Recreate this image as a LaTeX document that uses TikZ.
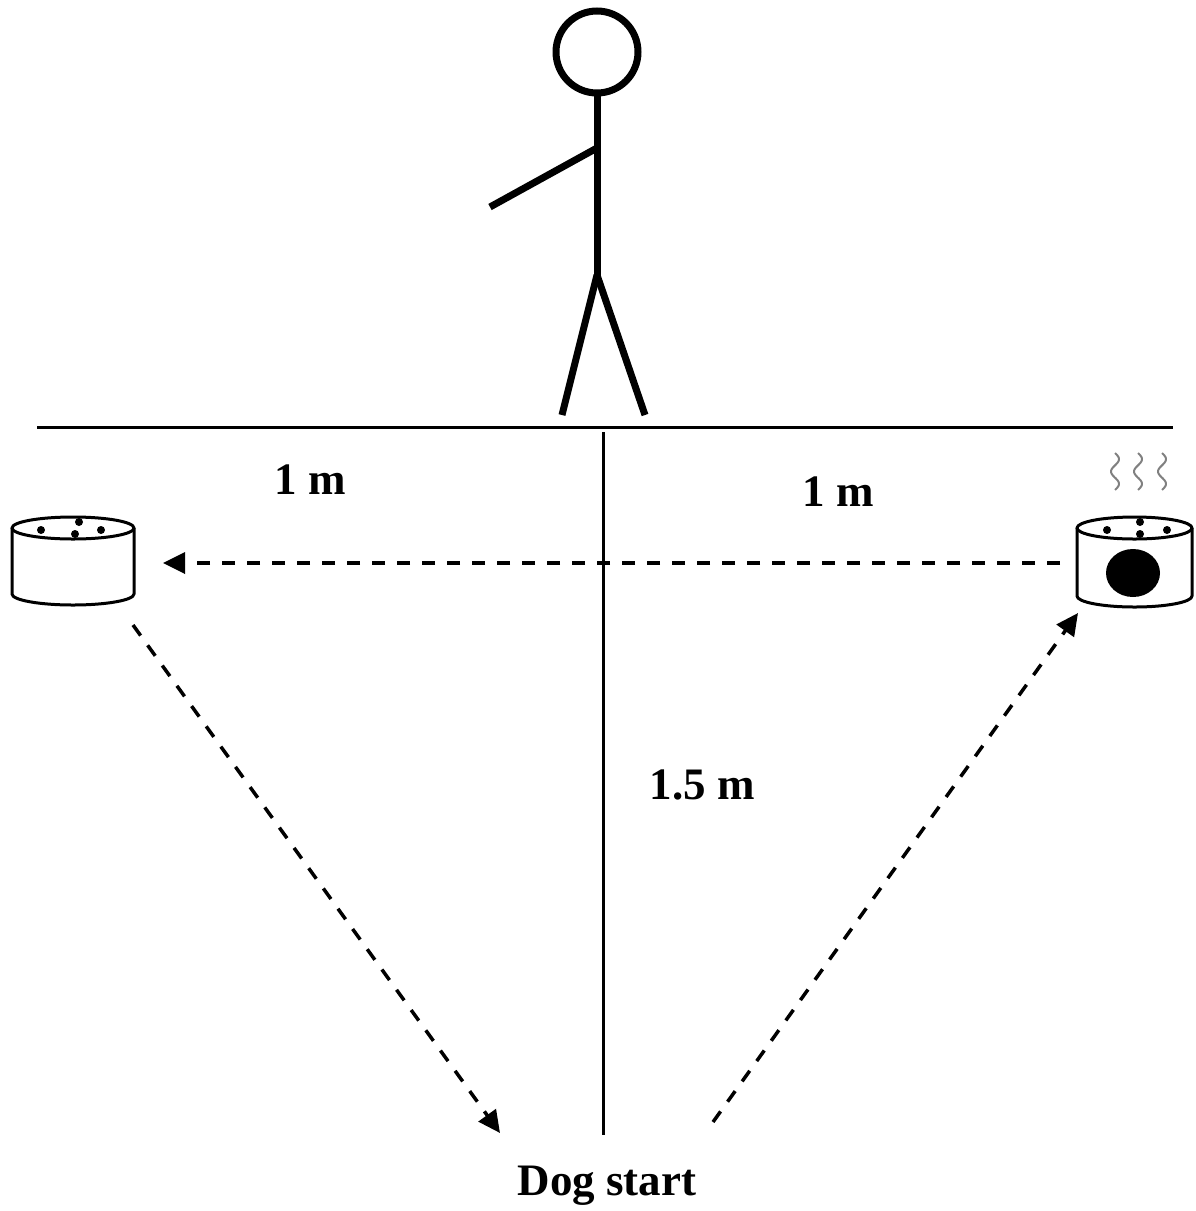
\documentclass[tikz,border=0pt]{standalone}
\usepackage{fontspec}
\setmainfont{Liberation Serif}
\usetikzlibrary{arrows.meta}
\begin{document}
\begin{tikzpicture}[x=1pt,y=-1pt,
  figure/.style={line width=7pt,line cap=butt},
  rule/.style={line width=3pt},
  bowl/.style={line width=3pt,fill=white,line join=round},
  crumb/.style={fill=black,draw=none},
  path/.style={line width=3.5pt,dash pattern=on 13pt off 12pt,
    -{Triangle[length=22pt,width=21pt]}},
  label/.style={font=\fontsize{45}{54}\selectfont\bfseries,inner sep=0pt},
  steam/.style={line width=2pt,gray}]
\useasboundingbox (0,0) rectangle (1195,1211);

% stick figure
\draw[figure] (597,52) circle (41);
\draw[figure] (597,93) -- (597,275);
\draw[figure] (597,148) -- (490,207);
\draw[figure] (597,275) -- (562,415);
\draw[figure] (597,275) -- (645,415);

% ground and centre line
\draw[rule] (37,427) -- (1173,427);
\draw[rule] (603,432) -- (603,1135);

% left bowl
\draw[bowl] (12,528) -- (12,594) arc[start angle=180,end angle=0,x radius=61,y radius=11] -- (134,528);
\draw[bowl] (73,528) ellipse[x radius=61,y radius=11];
\fill[crumb] (41,530) circle (4) (79,522) circle (4) (75,534) circle (4) (101,530) circle (4);

% right bowl with scented item
\draw[bowl] (1077,528) -- (1077,596) arc[start angle=180,end angle=0,x radius=57.5,y radius=11] -- (1192,528);
\draw[bowl] (1134.5,528) ellipse[x radius=57.5,y radius=11];
\fill[crumb] (1107,530) circle (4) (1140,522) circle (4) (1140,534) circle (4) (1167,530) circle (4);
\fill[black] (1133,573) ellipse[x radius=27,y radius=24];

% steam
\foreach \sx in {1115,1138,1162}
  \draw[steam] plot[domain=0:1,samples=40] ({\sx+4*sin(\x*540)},{453+37*\x});

% named points for the route
\coordinate (rbowl) at (1060,563);
\coordinate (lbowlin) at (163,563);
\coordinate (lbowlout) at (133,625);
\coordinate (startin) at (500,1133);
\coordinate (startout) at (713,1122);
\coordinate (rbowlin) at (1078,613);

\draw[path] (rbowl) -- (lbowlin);
\draw[path] (lbowlout) -- (startin);
\draw[path] (startout) -- (rbowlin);

% labels
\node[label] (dl) at (310,480) {1 m};
\node[label] (dr) at (838,492) {1 m};
\node[label] (dv) at (702,785) {1.5 m};
\node[label] (dog) at (607,1186) {Dog start};
\end{tikzpicture}
\end{document}
